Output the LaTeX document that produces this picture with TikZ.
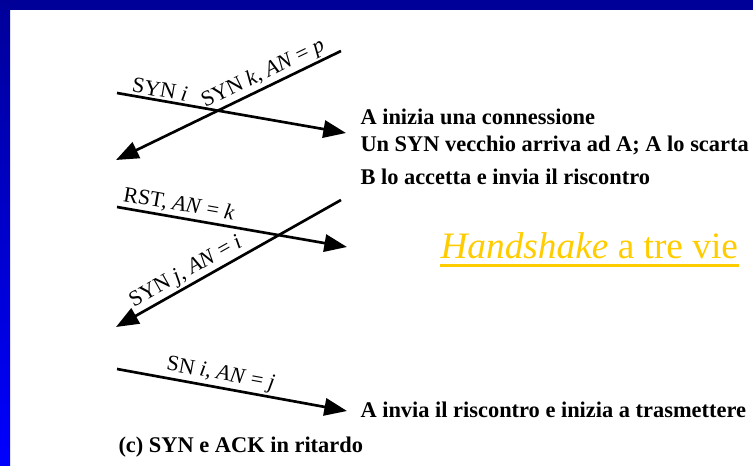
\documentclass[tikz,border=0pt]{standalone}
\usepackage{fontspec}
\setmainfont{Liberation Serif}
\usetikzlibrary{arrows.meta,calc}

\definecolor{framedark}{RGB}{0,0,153}
\definecolor{framelight}{RGB}{0,0,255}
\definecolor{hsyellow}{RGB}{255,204,0}

\tikzset{every picture/.style={line width=0.75pt}}
\tikzset{
  msg/.style={line width=2pt, -{Triangle[length=17pt,width=13pt]}},
  lbl/.style={anchor=south, inner sep=1.5pt, font=\fontsize{16.5}{19}\selectfont},
  note/.style={anchor=base west, inner sep=0pt, font=\fontsize{16.8}{20}\selectfont\bfseries}
}

\begin{document}
\begin{tikzpicture}[x=0.75pt,y=0.75pt,yscale=-1,xscale=1]
	\useasboundingbox (0,0) rectangle (753,466);

	%Shape: Frame
	\fill [framedark] (0,0) rectangle (753,10);
	\shade [top color=framedark, bottom color=framelight] (0,0) rectangle (10,466);

	%Straight Lines
	\coordinate (synI-s) at (117,93);
	\coordinate (synI-e) at (346,133);
	\coordinate (synK-s) at (341,51);
	\coordinate (synK-e) at (116,160);
	\coordinate (rst-s) at (117,207);
	\coordinate (rst-e) at (347,247);
	\coordinate (synJ-s) at (341,200);
	\coordinate (synJ-e) at (116,327);
	\coordinate (sn-s) at (117,369);
	\coordinate (sn-e) at (347,411);

	\draw [msg] (synI-s) -- node [lbl, pos=0.18, rotate=-9.9] {SYN \textit{i}} (synI-e);
	\draw [msg] (synK-s) -- node [lbl, pos=0.32, rotate=25.8] {SYN \textit{k}, \textit{AN} = \textit{p}} (synK-e);
	\draw [msg] (rst-s) -- node [lbl, pos=0.26, rotate=-9.9] {RST, \textit{AN} = \textit{k}} (rst-e);
	\draw [msg] (synJ-s) -- node [lbl, pos=0.66, rotate=29.4] {SYN \textit{j}, \textit{AN} = \textit{i}} (synJ-e);
	\draw [msg] (sn-s) -- node [lbl, pos=0.44, rotate=-10.3] {SN \textit{i}, \textit{AN} = \textit{j}} (sn-e);

	% Text Node
	\node [note] (txtA) at (360,125) {A inizia una connessione};
	% Text Node
	\node [note] (txtOld) at (360,152) {Un SYN vecchio arriva ad A; A lo scarta};
	% Text Node
	\node [note] (txtB) at (360,185) {B lo accetta e invia il riscontro};
	% Text Node
	\node [anchor=base west, inner sep=0pt, text=hsyellow, font=\fontsize{28}{33}\selectfont] (hs) at (440,259) {\textit{Handshake} a tre vie};
	\draw [hsyellow, line width=2.2] ($(hs.south west)+(0,6)$) -- ($(hs.south east)+(0,6)$);
	% Text Node
	\node [note] (txtSend) at (360,417) {A invia il riscontro e inizia a trasmettere};
	% Text Node
	\node [note] (caption) at (118,452) {(c) SYN e ACK in ritardo};

\end{tikzpicture}
\end{document}
